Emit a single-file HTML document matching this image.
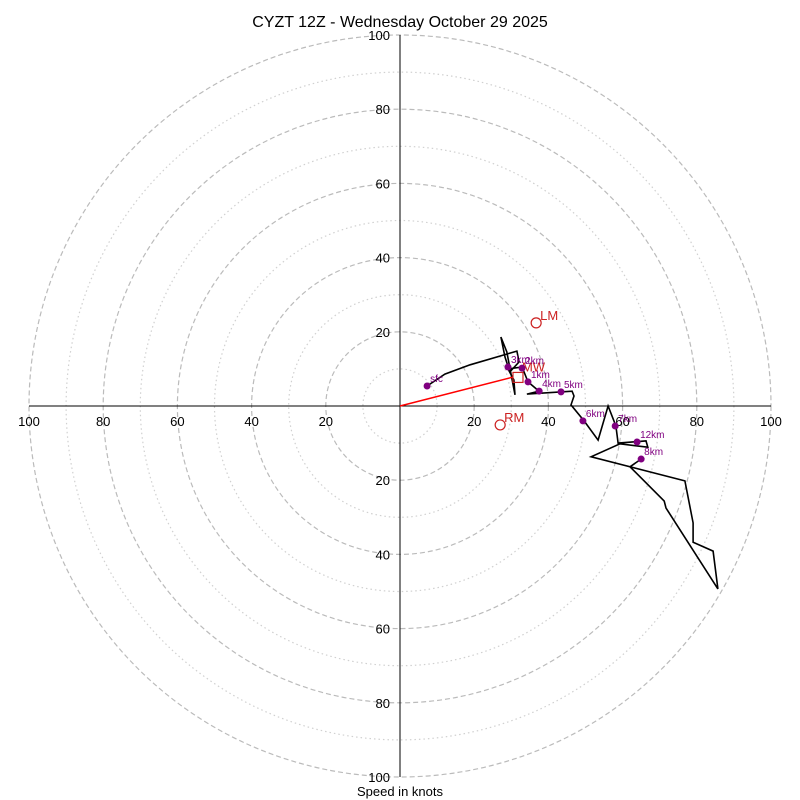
<!DOCTYPE html>
<html><head><meta charset="utf-8"><style>
body{margin:0;background:#fff}
svg{display:block;font-family:"Liberation Sans","DejaVu Sans",sans-serif}
</style></head><body>
<svg id="chart" width="800" height="800" viewBox="0 0 800 800">
<text x="400" y="27" text-anchor="middle" font-size="16">CYZT 12Z - Wednesday October 29 2025</text>
<text x="400" y="796" text-anchor="middle" font-size="13">Speed in knots</text>
<g id="rings"></g><g id="axes"></g><g id="marks"></g>
</svg>
<script>
const ringMajor=[20,40,60,80,100];
const ringMinor=[10,30,50,70,90];
const tickLabels=["20","40","60","80","100"];
const hodoU=[7.3,12.1,18.9,31.5,32.1,29.6,28.3,27.2,28.8,31.0,30.7,29.1,32.9,34.5,37.5,34.2,46.4,46.9,46.1,49.6,53.4,56.1,58.2,58.8,66.3,66.8,59.3,51.5,62.0,65.0,62.0,76.8,79.0,79.0,84.4,85.7,71.7,71.2,62.0];
const hodoV=[5.4,8.6,11.1,14.8,11.9,9.2,13.2,18.6,14.6,3.0,7.0,10.0,10.5,6.5,4.0,3.2,4.0,2.7,0.3,-4.0,-9.2,0,-5.4,-10.0,-9.4,-11.1,-10.2,-13.7,-16.4,-14.3,-16.4,-20.2,-31.5,-36.7,-39.1,-49.3,-27.5,-25.6,-16.4];
const markLabels=["sfc","3km","2km","1km","4km","5km","6km","7km","12km","8km"];
const markU=[7.3,29.1,32.9,34.5,37.5,43.4,49.3,58.0,63.9,65.0];
const markV=[5.4,10.5,10.2,6.5,4.0,3.8,-4.0,-5.4,-9.7,-14.3];
const stormLabels=["LM","RM"];
const stormU=[36.7,27.0];
const stormV=[22.4,-5.1];
const mwU=31.8, mwV=7.7;
const meanU=30.5, meanV=7.8;

const NS="http://www.w3.org/2000/svg";
const cx=400, cy=406, R=371, maxS=100;
function sx(u){return cx+u*R/maxS;}
function sy(v){return cy-v*R/maxS;}
function rr(s){return s*R/maxS;}
function mk(tag,attrs,parent){const e=document.createElementNS(NS,tag);for(const k in attrs)e.setAttribute(k,attrs[k]);parent.appendChild(e);return e;}
const rings=document.getElementById('rings'),axes=document.getElementById('axes'),marks=document.getElementById('marks');

ringMinor.forEach(s=>{
  const c=mk('circle',{cx:cx,cy:cy,r:rr(s),fill:'none',stroke:'#d0d0d0','stroke-width':1.2,'stroke-dasharray':'1.5,3'},rings);
  
  
});
ringMajor.forEach(s=>{
  const c=mk('circle',{cx:cx,cy:cy,r:rr(s),fill:'none',stroke:'#bbbbbb','stroke-width':1.2,'stroke-dasharray':'5,3'},rings);
  
  
});
let l=mk('line',{x1:sx(-maxS),y1:cy,x2:sx(maxS),y2:cy,stroke:'#000','stroke-width':1},axes);


l=mk('line',{x1:cx,y1:sy(maxS),x2:cx,y2:sy(-maxS),stroke:'#000','stroke-width':1},axes);


ringMajor.forEach((s,i)=>{
  [1,-1].forEach(d=>{
    let t=mk('text',{x:sx(d*s),y:cy+20,'text-anchor':'middle','font-size':13},axes);
    t.textContent=tickLabels[i];
    
    
    t=mk('text',{x:cx-10,y:sy(d*s)+5,'text-anchor':'end','font-size':13},axes);
    t.textContent=tickLabels[i];
    
    
  });
});
let pts=hodoU.map((u,i)=>sx(u).toFixed(1)+','+sy(hodoV[i]).toFixed(1)).join(' ');
let pl=mk('polyline',{points:pts,fill:'none',stroke:'#000','stroke-width':1.6,'stroke-linejoin':'miter'},marks);


let ar=mk('line',{x1:cx,y1:cy,x2:sx(meanU),y2:sy(meanV),stroke:'#ff0000','stroke-width':1.5},marks);


let sq=mk('rect',{x:sx(mwU)-5,y:sy(mwV)-5,width:10,height:10,fill:'none',stroke:'#cc2222','stroke-width':1.2},marks);


let mwt=mk('text',{x:sx(mwU)+4,y:sy(mwV)-6,'font-size':13,fill:'#cc2222'},marks);
mwt.textContent='MW';


stormLabels.forEach((n,i)=>{
  const c=mk('circle',{cx:sx(stormU[i]),cy:sy(stormV[i]),r:5,fill:'none',stroke:'#cc2222','stroke-width':1.2},marks);
  
  
  const t=mk('text',{x:sx(stormU[i])+4,y:sy(stormV[i])-3,'font-size':13,fill:'#cc2222'},marks);
  t.textContent=n;
  
  
});
markLabels.forEach((n,i)=>{
  const c=mk('circle',{cx:sx(markU[i]),cy:sy(markV[i]),r:3.5,fill:'#800080'},marks);
  
  
  const t=mk('text',{x:sx(markU[i])+3,y:sy(markV[i])-4,'font-size':10,fill:'#800080'},marks);
  t.textContent=n;
  
  
});
</script>
</body></html>
